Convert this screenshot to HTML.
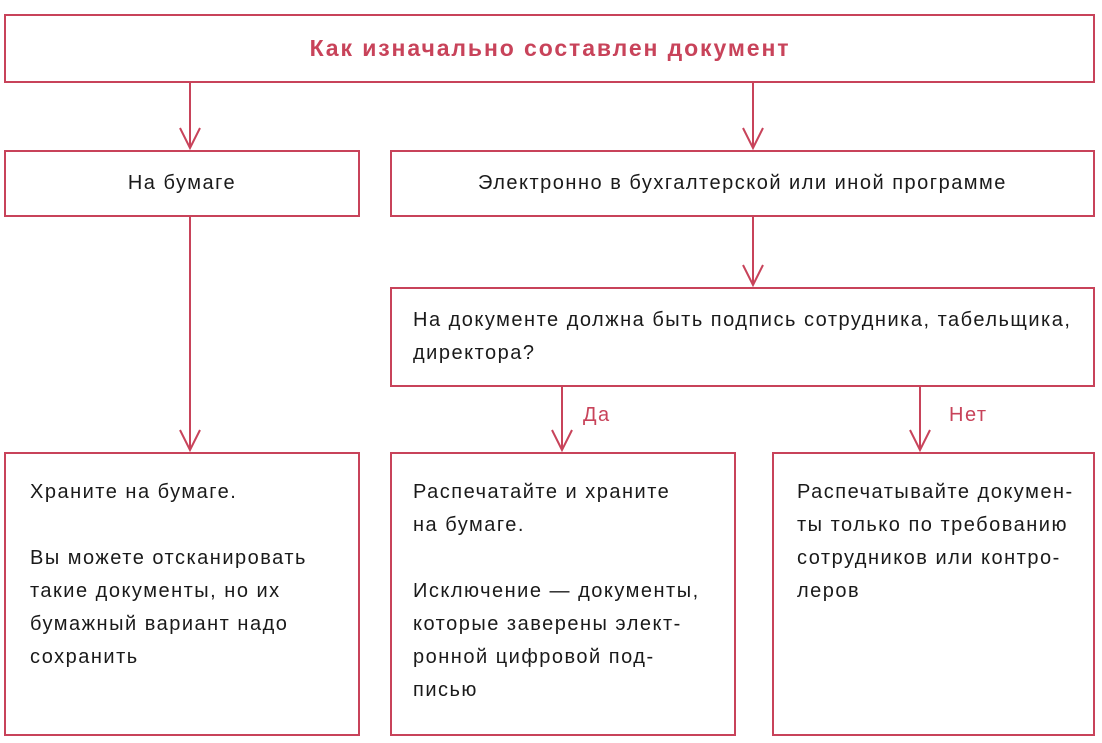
<!DOCTYPE html>
<html><head><meta charset="utf-8"><style>
body{margin:0;width:1102px;height:743px;background:#fff;position:relative;font-family:"Liberation Sans",sans-serif;overflow:hidden}
.b{position:absolute;border:2px solid #c8435a;box-sizing:border-box}
.t{position:absolute;font-size:20px;color:#1a1a1a;line-height:33px;white-space:pre;letter-spacing:1.5px}
svg{position:absolute;left:0;top:0}
</style></head><body>
<div class="b" style="left:4px;top:14px;width:1091px;height:69px"></div>
<div class="b" style="left:4px;top:150px;width:356px;height:67px"></div>
<div class="b" style="left:390px;top:150px;width:705px;height:67px"></div>
<div class="b" style="left:390px;top:287px;width:705px;height:100px"></div>
<div class="b" style="left:4px;top:452px;width:356px;height:284px"></div>
<div class="b" style="left:390px;top:452px;width:346px;height:284px"></div>
<div class="b" style="left:772px;top:452px;width:323px;height:284px"></div>
<svg width="1102" height="743" fill="none" stroke="#c8435a" stroke-width="2">
<path d="M190 83V148M180 128l10 20 10-20"/>
<path d="M753 83V148M743 128l10 20 10-20"/>
<path d="M753 217V285M743 265l10 20 10-20"/>
<path d="M190 217V450M180 430l10 20 10-20"/>
<path d="M562 387V450M552 430l10 20 10-20"/>
<path d="M920 387V450M910 430l10 20 10-20"/>
</svg>
<div class="t" style="left:0;width:1100px;top:32px;text-align:center;font-weight:bold;font-size:23px;letter-spacing:1.9px;color:#c8435a">Как изначально составлен документ</div>
<div class="t" style="left:4px;width:356px;top:167px;text-align:center">На бумаге</div>
<div class="t" style="left:390px;width:705px;top:167px;text-align:center">Электронно в бухгалтерской или иной программе</div>
<div class="t" style="left:413px;top:304px">На документе должна быть подпись сотрудника, табельщика,
директора?</div>
<div class="t" style="left:583px;top:399px;color:#c8435a">Да</div>
<div class="t" style="left:949px;top:399px;color:#c8435a">Нет</div>
<div class="t" style="left:30px;top:476px">Храните на бумаге.

Вы можете отсканировать
такие документы, но их
бумажный вариант надо
сохранить</div>
<div class="t" style="left:413px;top:476px">Распечатайте и храните
на бумаге.

Исключение — документы,
которые заверены элект-
ронной цифровой под-
писью</div>
<div class="t" style="left:797px;top:476px">Распечатывайте докумен-
ты только по требованию
сотрудников или контро-
леров</div>
</body></html>
